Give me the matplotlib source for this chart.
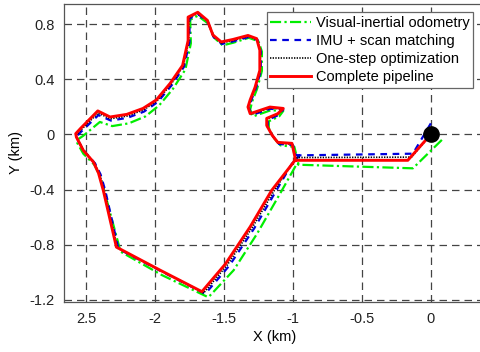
import matplotlib
matplotlib.use("Agg")
import matplotlib.pyplot as plt

plt.rcParams['font.family'] = ['Liberation Sans', 'DejaVu Sans']

# trajectories (km)
red_x = [0.0, -0.167, -0.985, -1.154, -1.31, -1.49, -1.66, -1.96, -2.28, -2.375, -2.41, -2.447, -2.52,
         -2.57, -2.575, -2.54, -2.415, -2.326, -2.205, -2.087, -1.99, -1.89, -1.80, -1.76, -1.76, -1.69,
         -1.62, -1.58, -1.52, -1.435, -1.326, -1.263, -1.24, -1.24, -1.275, -1.31, -1.326, -1.31, -1.167,
         -1.07, -1.11, -1.19, -1.19, -1.15, -1.11, -1.007, -0.985, -0.985]
red_y = [0.0, -0.188, -0.188, -0.406, -0.67, -0.94, -1.14, -0.986, -0.817, -0.406, -0.28, -0.20, -0.116,
         -0.02, 0.005, 0.043, 0.17, 0.126, 0.145, 0.188, 0.25, 0.37, 0.50, 0.68, 0.85, 0.885,
         0.826, 0.72, 0.67, 0.688, 0.717, 0.694, 0.61, 0.464, 0.34, 0.25, 0.198, 0.15, 0.198,
         0.188, 0.15, 0.116, 0.065, -0.007, -0.058, -0.065, -0.167, -0.188]

blk_x = [0.0, -0.14, -0.97, -0.99, -1.135, -1.295, -1.475, -1.648, -1.955, -2.272, -2.368, -2.402, -2.44,
         -2.515, -2.567, -2.57, -2.535, -2.413, -2.323, -2.203, -2.083, -1.985, -1.885, -1.795, -1.755,
         -1.755, -1.688, -1.618, -1.578, -1.518, -1.433, -1.325, -1.26, -1.237, -1.237, -1.272, -1.307,
         -1.322, -1.305, -1.166, -1.07, -1.108, -1.187, -1.187, -1.147, -1.105, -1.004, -0.983, -0.97]
blk_y = [0.0, -0.165, -0.168, -0.19, -0.406, -0.675, -0.945, -1.15, -0.99, -0.824, -0.408, -0.285, -0.205,
         -0.12, -0.028, -0.002, 0.034, 0.155, 0.113, 0.133, 0.177, 0.243, 0.362, 0.495, 0.675,
         0.845, 0.878, 0.818, 0.712, 0.662, 0.682, 0.711, 0.69, 0.605, 0.462, 0.338, 0.248,
         0.194, 0.145, 0.192, 0.184, 0.145, 0.11, 0.06, -0.012, -0.064, -0.071, -0.16, -0.168]

blu_x = [0.0, -0.13, -0.95, -1.0, -1.12, -1.28, -1.46, -1.635, -1.95, -2.265, -2.36, -2.395, -2.435,
         -2.51, -2.565, -2.565, -2.53, -2.41, -2.32, -2.20, -2.08, -1.98, -1.88, -1.79, -1.75,
         -1.75, -1.685, -1.615, -1.575, -1.515, -1.43, -1.323, -1.257, -1.233, -1.233, -1.268, -1.303,
         -1.318, -1.30, -1.165, -1.07, -1.105, -1.183, -1.183, -1.143, -1.10, -1.0, -0.98, -0.95]
blu_y = [0.08, -0.14, -0.152, -0.20, -0.406, -0.68, -0.95, -1.155, -0.995, -0.83, -0.41, -0.29, -0.21,
         -0.125, -0.035, -0.01, 0.025, 0.14, 0.10, 0.12, 0.165, 0.235, 0.355, 0.49, 0.67,
         0.84, 0.87, 0.81, 0.705, 0.655, 0.675, 0.705, 0.685, 0.60, 0.46, 0.335, 0.245,
         0.19, 0.14, 0.185, 0.18, 0.14, 0.105, 0.055, -0.017, -0.07, -0.077, -0.15, -0.152]

grn_x = [0.08, -0.13, -0.96, -0.97, -1.08, -1.26, -1.43, -1.60, -1.615, -1.95, -2.25, -2.36, -2.40,
         -2.44, -2.52, -2.565, -2.565, -2.52, -2.40, -2.31, -2.19, -2.07, -1.97, -1.87, -1.78, -1.74,
         -1.745, -1.69, -1.61, -1.57, -1.51, -1.43, -1.32, -1.25, -1.225, -1.225, -1.26, -1.295,
         -1.31, -1.29, -1.16, -1.07, -1.10, -1.175, -1.175, -1.135, -1.09, -0.99, -0.965, -0.96]
grn_y = [-0.04, -0.246, -0.22, -0.21, -0.406, -0.72, -0.985, -1.167, -1.18, -1.02, -0.85, -0.44, -0.30,
         -0.22, -0.14, -0.06, -0.04, -0.01, 0.09, 0.06, 0.08, 0.13, 0.21, 0.33, 0.47, 0.66,
         0.83, 0.86, 0.80, 0.70, 0.645, 0.665, 0.70, 0.675, 0.60, 0.46, 0.33, 0.24,
         0.18, 0.13, 0.175, 0.17, 0.13, 0.095, 0.045, -0.03, -0.08, -0.09, -0.19, -0.22]

labels = ['Visual-inertial odometry', 'IMU + scan matching', 'One-step optimization', 'Complete pipeline']
xticks = [-2.5, -2, -1.5, -1, -0.5, 0]
xticklabels = ['2.5', '-2', '-1.5', '-1', '-0.5', '0']
yticks = [-1.2, -0.8, -0.4, 0, 0.4, 0.8]
yticklabels = ['-1.2', '-0.8', '-0.4', '0', '0.4', '0.8']

fig = plt.figure(figsize=(4.8, 3.52), dpi=100)
ax = fig.add_axes([64 / 480, 1 - 302 / 352, (486 - 64) / 480, (302 - 4) / 352])

ax.plot(grn_x, grn_y, color='#00ee00', ls=(0, (5, 1.5, 1, 1.5)), lw=1.6, label=labels[0])
ax.plot(blu_x, blu_y, color='#0000dd', ls=(0, (3, 2.5)), lw=1.6, label=labels[1])
ax.plot(blk_x, blk_y, color='black', ls=(0, (0.8, 0.8)), lw=1.2, label=labels[2])
ax.plot(red_x, red_y, color='red', lw=2.1, label=labels[3])
ax.plot([0], [0], 'o', color='black', ms=11, zorder=5)

ax.set_xlim(-2.66, 0.40)
ax.set_ylim(-1.215, 0.945)
ax.set_xticks(xticks)
ax.set_xticklabels(xticklabels)
ax.set_yticks(yticks)
ax.set_yticklabels(yticklabels)
ax.tick_params(direction='in', length=0, labelsize=10.5, colors='#222222', pad=7)
ax.grid(True, color='#444444', ls=(0, (6, 4)), lw=0.9)
for s in ax.spines.values():
    s.set_color('#555555')
    s.set_linewidth(0.9)

ax.set_xlabel('X (km)', fontsize=10.5, labelpad=3)
ax.set_ylabel('Y (km)', fontsize=10.5, labelpad=4)

# legend box: right edge near x=473 px, top near y=12 px
leg = ax.legend(loc='upper right', bbox_to_anchor=((473 - 64) / (486 - 64), 1 - 8 / 298),
                fontsize=10.5, fancybox=False, edgecolor='#666666', framealpha=1,
                handlelength=2.8, handletextpad=0.3, borderpad=0.25, labelspacing=0.28,
                borderaxespad=0)
leg.get_frame().set_linewidth(0.9)

fig.savefig('out.png', dpi=100)
